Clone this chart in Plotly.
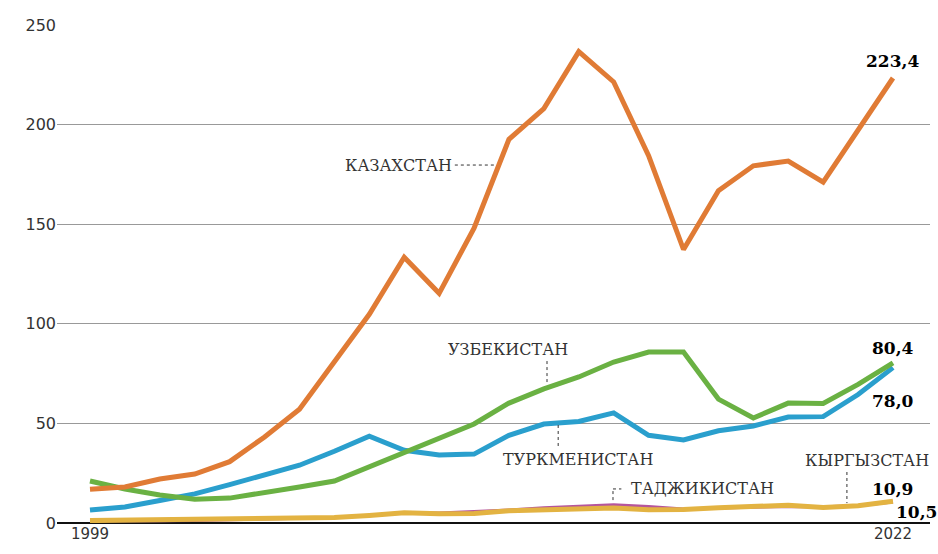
import plotly.graph_objects as go

years = list(range(1999, 2023))

kazakhstan = [16.9, 18.1, 22.1, 24.6, 30.8, 43.2, 57.1, 81.0, 104.8, 133.4, 115.3, 148.0, 192.6, 208.0, 236.6, 221.4, 184.4, 137.3, 166.8, 179.3, 181.7, 171.1, 197.1, 223.4]
uzbekistan = [21.1, 17.1, 14.1, 11.9, 12.5, 15.1, 18.1, 21.1, 28.1, 35.6, 42.2, 49.7, 60.2, 67.3, 73.3, 80.8, 85.8, 85.8, 62.2, 52.7, 60.2, 60.0, 69.6, 80.4]
turkmenistan = [6.5, 8.0, 11.3, 14.6, 19.3, 24.0, 29.0, 36.0, 43.6, 36.5, 34.1, 34.6, 44.0, 49.7, 51.0, 55.3, 44.0, 41.7, 46.3, 48.7, 53.2, 53.4, 64.5, 78.0]
tajikistan = [1.1, 1.0, 1.1, 1.2, 1.6, 2.1, 2.3, 2.8, 3.7, 5.2, 5.0, 5.6, 6.5, 7.6, 8.5, 9.1, 8.3, 7.0, 7.5, 7.8, 8.3, 8.1, 8.7, 10.5]
kyrgyzstan = [1.2, 1.4, 1.5, 1.6, 1.9, 2.2, 2.5, 2.8, 3.8, 5.1, 4.7, 4.8, 6.2, 6.6, 7.3, 7.5, 6.7, 6.8, 7.7, 8.3, 8.9, 7.8, 8.7, 10.9]

y_ticks = [0, 50, 100, 150, 200, 250]
x_ticks = [1999, 2022]

C_KAZ = "#E07B35"
C_UZB = "#6AB143"
C_TKM = "#2A9FCD"
C_TJK = "#B5559C"
C_KGZ = "#E3B342"

fig = go.Figure()

def add_line(y, color, width):
    fig.add_trace(go.Scatter(x=years, y=y, mode="lines",
                             line=dict(color=color, width=width),
                             hoverinfo="skip", showlegend=False))

add_line(tajikistan, C_TJK, 3)
add_line(kyrgyzstan, C_KGZ, 5)
add_line(turkmenistan, C_TKM, 5)
add_line(uzbekistan, C_UZB, 5)
add_line(kazakhstan, C_KAZ, 5)

label_font = dict(family="DejaVu Serif", size=16, color="#333333")
value_font = dict(family="DejaVu Serif", size=17, color="#000000")

def ann(text, x, y, font, xanchor="center"):
    fig.add_annotation(x=x, y=y, text=text, showarrow=False, font=font,
                       xanchor=xanchor, yanchor="middle")

ann("КАЗАХСТАН", 2007.85, 179.7, label_font)
ann("УЗБЕКИСТАН", 2010.97, 87.3, label_font)
ann("ТУРКМЕНИСТАН", 2012.98, 32.1, label_font)
ann("ТАДЖИКИСТАН", 2016.53, 17.1, label_font)
ann("КЫРГЫЗСТАН", 2021.25, 31.6, label_font)

ann("<b>223,4</b>", 2022, 231.9, value_font)
ann("<b>80,4</b>", 2022, 87.9, value_font)
ann("<b>78,0</b>", 2022, 61.2, value_font)
ann("<b>10,9</b>", 2022, 17.1, value_font)
ann("<b>10,5</b>", 2022.68, 5.5, value_font)

dot = dict(color="#333333", width=1, dash="dot")
leaders = [
    (2009.45, 179.7, 2010.6, 179.7),
    (2012.09, 81.3, 2012.09, 70.3),
    (2012.41, 49.2, 2012.41, 37.6),
    (2013.98, 11.5, 2013.98, 17.1),
    (2013.98, 17.1, 2014.22, 17.1),
    (2020.68, 25.6, 2020.68, 10.0),
]
for x0, y0, x1, y1 in leaders:
    fig.add_shape(type="line", x0=x0, y0=y0, x1=x1, y1=y1, xref="x", yref="y",
                  line=dot, layer="above")

fig.update_layout(
    width=938, height=554,
    margin=dict(l=57, r=8, t=25, b=31, autoexpand=False),
    paper_bgcolor="white", plot_bgcolor="white",
    showlegend=False,
    xaxis=dict(range=[1998.055, 2023.06], tickvals=x_ticks, ticktext=[str(v) for v in x_ticks],
               showgrid=False, zeroline=False, showline=False, ticks="",
               tickfont=dict(family="DejaVu Sans", size=15, color="#333333"), ticklen=0),
    yaxis=dict(range=[0, 250], tickvals=y_ticks, showgrid=True, gridcolor="#999999", gridwidth=1,
               zeroline=True, zerolinecolor="#111111", zerolinewidth=2.5,
               showline=False, ticks="",
               tickfont=dict(family="DejaVu Sans", size=16, color="#333333")),
)

fig.write_html(
    "out.html",
    config={"displayModeBar": False, "staticPlot": True},
    post_script="document.body.style.margin='0';document.documentElement.style.overflow='hidden';document.body.style.overflow='hidden';",
)
